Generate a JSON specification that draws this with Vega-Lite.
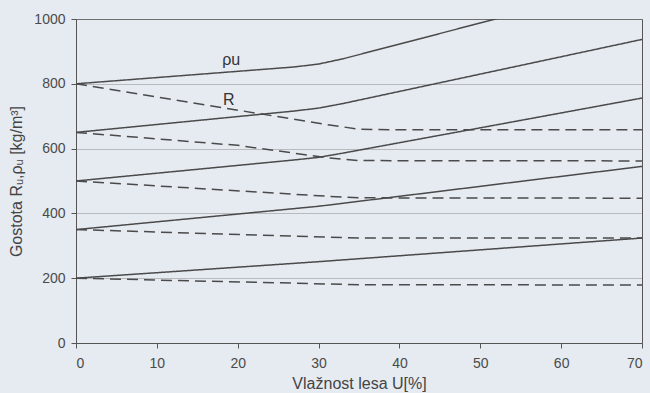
{
  "$schema": "https://vega.github.io/schema/vega-lite/v6.json",
  "width": 566,
  "height": 324,
  "autosize": "none",
  "padding": {"left": 76, "top": 19, "right": 8, "bottom": 50},
  "background": "#e6eaf1",
  "config": {
    "font": "Liberation Sans",
    "view": {"stroke": "#555555", "strokeWidth": 1},
    "axis": {
      "domainColor": "#555555",
      "tickColor": "#555555",
      "labelColor": "#4a4a4a",
      "titleColor": "#444444",
      "labelFontSize": 14,
      "titleFontSize": 16,
      "titleFontWeight": "normal",
      "tickSize": 5
    }
  },
  "datasets": {
    "curves": [
      {"U": 0, "value": 800, "curve": "rho800", "type": "rho"},
      {"U": 27, "value": 852, "curve": "rho800", "type": "rho"},
      {"U": 30, "value": 861, "curve": "rho800", "type": "rho"},
      {"U": 33, "value": 877, "curve": "rho800", "type": "rho"},
      {"U": 70, "value": 1118, "curve": "rho800", "type": "rho"},
      {"U": 0, "value": 650, "curve": "rho650", "type": "rho"},
      {"U": 27, "value": 716, "curve": "rho650", "type": "rho"},
      {"U": 30, "value": 725, "curve": "rho650", "type": "rho"},
      {"U": 33, "value": 739, "curve": "rho650", "type": "rho"},
      {"U": 70, "value": 937, "curve": "rho650", "type": "rho"},
      {"U": 0, "value": 500, "curve": "rho500", "type": "rho"},
      {"U": 27, "value": 565, "curve": "rho500", "type": "rho"},
      {"U": 30, "value": 573, "curve": "rho500", "type": "rho"},
      {"U": 33, "value": 586, "curve": "rho500", "type": "rho"},
      {"U": 70, "value": 756, "curve": "rho500", "type": "rho"},
      {"U": 0, "value": 350, "curve": "rho350", "type": "rho"},
      {"U": 30, "value": 422, "curve": "rho350", "type": "rho"},
      {"U": 70, "value": 545, "curve": "rho350", "type": "rho"},
      {"U": 0, "value": 200, "curve": "rho200", "type": "rho"},
      {"U": 30, "value": 251, "curve": "rho200", "type": "rho"},
      {"U": 70, "value": 324, "curve": "rho200", "type": "rho"},
      {"U": 0, "value": 800, "curve": "R800", "type": "R"},
      {"U": 31, "value": 674, "curve": "R800", "type": "R"},
      {"U": 35, "value": 660, "curve": "R800", "type": "R"},
      {"U": 39, "value": 658, "curve": "R800", "type": "R"},
      {"U": 70, "value": 658, "curve": "R800", "type": "R"},
      {"U": 0, "value": 650, "curve": "R650", "type": "R"},
      {"U": 20, "value": 610, "curve": "R650", "type": "R"},
      {"U": 31, "value": 572, "curve": "R650", "type": "R"},
      {"U": 35, "value": 563, "curve": "R650", "type": "R"},
      {"U": 70, "value": 562, "curve": "R650", "type": "R"},
      {"U": 0, "value": 500, "curve": "R500", "type": "R"},
      {"U": 31, "value": 453, "curve": "R500", "type": "R"},
      {"U": 35, "value": 448, "curve": "R500", "type": "R"},
      {"U": 70, "value": 447, "curve": "R500", "type": "R"},
      {"U": 0, "value": 350, "curve": "R350", "type": "R"},
      {"U": 35, "value": 324, "curve": "R350", "type": "R"},
      {"U": 70, "value": 324, "curve": "R350", "type": "R"},
      {"U": 0, "value": 200, "curve": "R200", "type": "R"},
      {"U": 35, "value": 180, "curve": "R200", "type": "R"},
      {"U": 70, "value": 179, "curve": "R200", "type": "R"}
    ],
    "labels": [
      {"U": 19.2, "value": 875, "label": "ρu"},
      {"U": 18.9, "value": 751, "label": "R"}
    ]
  },
  "layer": [
    {
      "data": {"name": "curves"},
      "mark": {"type": "line", "clip": true, "strokeWidth": 1.5, "color": "#4a4a4a"},
      "encoding": {
        "x": {
          "field": "U", "type": "quantitative",
          "scale": {"domain": [0, 70], "nice": false},
          "axis": {"values": [0, 10, 20, 30, 40, 50, 60, 70], "grid": false, "title": "Vlažnost lesa U[%]", "titlePadding": 5, "labelPadding": 8}
        },
        "y": {
          "field": "value", "type": "quantitative",
          "scale": {"domain": [0, 1000], "nice": false},
          "axis": {"values": [0, 200, 400, 600, 800, 1000], "format": "d", "grid": true, "gridColor": "#8a8a8a", "gridDash": [1, 1], "gridWidth": 1, "title": "Gostota Rᵤ,ρᵤ [kg/m³]", "titlePadding": 9, "labelPadding": 6}
        },
        "detail": {"field": "curve"},
        "strokeDash": {
          "field": "type", "type": "nominal",
          "scale": {"domain": ["rho", "R"], "range": [[1, 0], [11, 6]]},
          "legend": null
        }
      }
    },
    {
      "data": {"name": "labels"},
      "mark": {"type": "text", "fontSize": 16, "color": "#333333"},
      "encoding": {
        "x": {"field": "U", "type": "quantitative"},
        "y": {"field": "value", "type": "quantitative"},
        "text": {"field": "label"}
      }
    }
  ]
}
